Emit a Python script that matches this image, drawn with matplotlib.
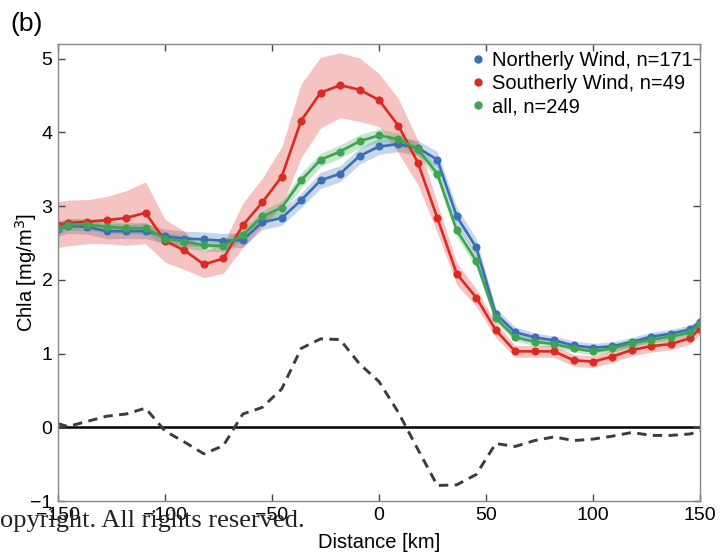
import numpy as np
import matplotlib
matplotlib.use("Agg")
import matplotlib.pyplot as plt
from matplotlib.lines import Line2D

plt.rcParams['font.family'] = ['Liberation Sans', 'DejaVu Sans']

# Along-track distance: section ends plus 33 bin centres (9.09 km bins)
bin_width = 300.0 / 33
centres = (np.arange(33) - 16) * bin_width
distance = np.concatenate([[-150.0], centres, [150.0]])

north_mean = [2.69, 2.73, 2.72, 2.66, 2.66, 2.66, 2.59, 2.56, 2.55, 2.53, 2.54,
              2.78, 2.84, 3.08, 3.35, 3.44, 3.68, 3.81, 3.84, 3.79, 3.63, 2.86,
              2.44, 1.54, 1.29, 1.22, 1.18, 1.11, 1.08, 1.10, 1.16, 1.23, 1.27,
              1.33, 1.43]
north_err = [0.10, 0.10, 0.10, 0.10, 0.10, 0.10, 0.10, 0.10, 0.10, 0.10, 0.10,
             0.10, 0.10, 0.10, 0.11, 0.11, 0.11, 0.11, 0.10, 0.10, 0.11, 0.12,
             0.12, 0.08, 0.07, 0.06, 0.06, 0.06, 0.06, 0.06, 0.06, 0.06, 0.06,
             0.06, 0.06]

south_mean = [2.75, 2.77, 2.79, 2.81, 2.84, 2.91, 2.53, 2.40, 2.21, 2.29, 2.74,
              3.05, 3.40, 4.16, 4.54, 4.64, 4.58, 4.44, 4.09, 3.59, 2.84, 2.08,
              1.76, 1.32, 1.03, 1.03, 1.03, 0.91, 0.89, 0.96, 1.05, 1.10, 1.13,
              1.21, 1.34]
south_err = [0.31, 0.31, 0.30, 0.32, 0.37, 0.42, 0.29, 0.26, 0.18, 0.20, 0.30,
             0.33, 0.40, 0.50, 0.48, 0.44, 0.43, 0.36, 0.37, 0.30, 0.20, 0.15,
             0.12, 0.10, 0.08, 0.08, 0.08, 0.08, 0.08, 0.08, 0.08, 0.08, 0.08,
             0.08, 0.08]

all_mean = [2.70, 2.75, 2.75, 2.72, 2.70, 2.70, 2.56, 2.52, 2.47, 2.46, 2.61,
            2.86, 2.98, 3.35, 3.63, 3.74, 3.88, 3.96, 3.91, 3.77, 3.44, 2.67,
            2.26, 1.48, 1.22, 1.16, 1.13, 1.07, 1.03, 1.07, 1.14, 1.19, 1.23,
            1.29, 1.40]
all_err = [0.08, 0.08, 0.08, 0.08, 0.08, 0.08, 0.08, 0.08, 0.08, 0.08, 0.08,
           0.08, 0.09, 0.10, 0.09, 0.09, 0.09, 0.09, 0.08, 0.08, 0.09, 0.09,
           0.09, 0.06, 0.05, 0.05, 0.05, 0.05, 0.05, 0.05, 0.05, 0.05, 0.05,
           0.05, 0.05]

# Topography / anomaly profile (dashed)
profile = [0.05, 0.01, 0.08, 0.15, 0.18, 0.26, -0.05, -0.20, -0.36, -0.25, 0.18,
           0.27, 0.52, 1.07, 1.20, 1.19, 0.86, 0.62, 0.20, -0.30, -0.79, -0.78,
           -0.64, -0.22, -0.26, -0.18, -0.13, -0.18, -0.16, -0.12, -0.07, -0.11,
           -0.11, -0.09, -0.05]

series = [
    ("Northerly Wind, n=171", north_mean, north_err, "#3a6fb7"),
    ("Southerly Wind, n=49", south_mean, south_err, "#dd2a21"),
    ("all, n=249", all_mean, all_err, "#3ba552"),
]

fig = plt.figure(figsize=(7.22, 5.56), dpi=100)
ax = fig.add_axes([0.0803, 0.0989, 0.8892, 0.8220])

for label, m, e, c in series:
    m = np.asarray(m)
    e = np.asarray(e)
    ax.fill_between(distance, m - e, m + e, color=c, alpha=0.28, lw=0)

for label, m, e, c in series:
    ax.plot(distance, m, color=c, lw=1.9, marker='o', ms=4.8, mec=c, mfc=c)

ax.axhline(0, color='black', lw=1.8, zorder=1)
ax.plot(distance, profile, color='#3c3c3c', lw=2.1, ls=(0, (3.2, 2.2)))

ax.set_xlim(-150, 150)
ax.set_ylim(-1, 5.2)
ax.set_xticks([-150, -100, -50, 0, 50, 100, 150])
ax.set_yticks([-1, 0, 1, 2, 3, 4, 5])
ax.tick_params(direction='in', top=True, right=True, length=5, width=1,
               color='#444444', labelsize=14, pad=4)
for s in ax.spines.values():
    s.set_color('#888888')
    s.set_linewidth(1.0)

ax.set_xlabel("Distance [km]", fontsize=14.5, labelpad=7)
ax.set_ylabel("Chla [mg/m$^3$]", fontsize=14.5, labelpad=-6)

handles = [Line2D([], [], ls='none', marker='o', ms=5, color=c)
           for _, _, _, c in series]
ax.legend(handles, [s[0] for s in series], loc='upper right', frameon=False,
          fontsize=14.5, handletextpad=0.2, borderaxespad=0.15, labelspacing=0.2,
          handlelength=1.0, borderpad=0.2)

fig.text(0.014, 0.935, "(b)", fontsize=19, ha='left', va='bottom')
fig.text(0.0, 0.052, "opyright. All rights reserved.", fontsize=19,
         family='Liberation Serif', ha='left', va='baseline', color='#222222')

fig.savefig("out.png", dpi=100)
